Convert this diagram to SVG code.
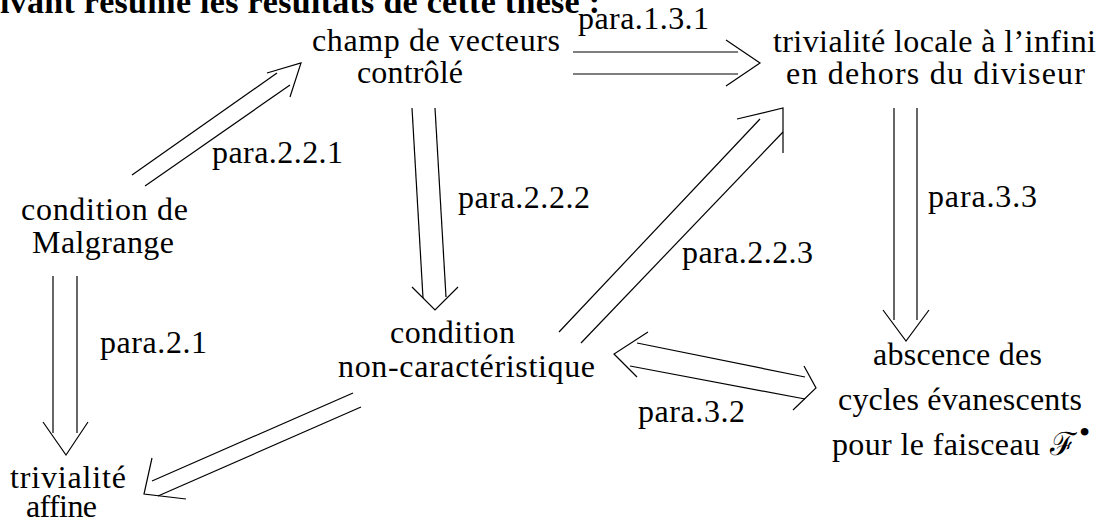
<svg xmlns="http://www.w3.org/2000/svg" width="1104" height="520" viewBox="0 0 1104 520">
<style>
text{font-family:"Liberation Serif","Times New Roman",serif;font-size:32px;fill:#000}
.t{font-weight:bold;font-size:34px}
.c line,.c polyline{stroke:#000;stroke-width:1.2;fill:none}
</style>
<rect width="1104" height="520" fill="#fff"/>
<text class="t" x="0" y="13" textLength="600">ivant résume les résultats de cette thèse :</text>
<g id="champ"><text x="312" y="51" textLength="248">champ de vecteurs</text><text x="357" y="83" textLength="106">contrôlé</text></g>
<g id="trivloc"><text x="773" y="52" textLength="323">trivialité locale à l’infini</text><text x="786" y="84" textLength="299">en dehors du diviseur</text></g>
<g id="malgrange"><text x="21" y="220" textLength="167">condition de</text><text x="32" y="253" textLength="142">Malgrange</text></g>
<g id="noncar"><text x="390" y="343" textLength="125">condition</text><text x="338" y="377" textLength="257">non-caractéristique</text></g>
<g id="abscence"><text x="873" y="365" textLength="169">abscence des</text><text x="838" y="410" textLength="244">cycles évanescents</text><text x="832" y="455" textLength="208">pour le faisceau</text><text x="1050" y="455">ℱ</text><text x="1079" y="443" font-size="20">•</text></g>
<g id="trivaff"><text x="10" y="488" textLength="116">trivialité</text><text x="26" y="517" textLength="71">affine</text></g>
<g id="labels">
<text x="578" y="29" textLength="131">para.1.3.1</text>
<text x="212" y="163" textLength="131">para.2.2.1</text>
<text x="458" y="208" textLength="132">para.2.2.2</text>
<text x="928" y="207" textLength="109">para.3.3</text>
<text x="682" y="263" textLength="131">para.2.2.3</text>
<text x="100" y="353" textLength="107">para.2.1</text>
<text x="638" y="422" textLength="107">para.3.2</text>
</g>
<g id="connectors" class="c">
<line x1="132" y1="175" x2="277" y2="73"/><line x1="145" y1="186" x2="290" y2="85"/><polyline points="267,73 301,63 290,97"/>
<line x1="573" y1="52" x2="738" y2="52"/><line x1="573" y1="74" x2="738" y2="74"/><polyline points="726,40 760,63 726,86"/>
<line x1="412" y1="108" x2="423" y2="298"/><line x1="435" y1="108" x2="446" y2="297"/><polyline points="412,287 435,310 458,287"/>
<line x1="894" y1="108" x2="894" y2="320"/><line x1="917" y1="108" x2="917" y2="320"/><polyline points="883,310 906,341 929,310"/>
<line x1="53" y1="276" x2="53" y2="433"/><line x1="77" y1="276" x2="77" y2="433"/><polyline points="43,422 66,455 88,422"/>
<line x1="353" y1="393" x2="152" y2="481"/><line x1="361" y1="407" x2="158" y2="496"/><polyline points="152,458 144,494 186,499"/>
<line x1="559" y1="332" x2="760" y2="119"/><line x1="581" y1="343" x2="783" y2="132"/><polyline points="737,119 783,108 783,153"/>
<line x1="637" y1="343" x2="805" y2="377"/><line x1="630" y1="366" x2="805" y2="399"/><polyline points="648,332 614,354 637,377"/><polyline points="804,366 816,388 793,410"/>
</g>
</svg>
